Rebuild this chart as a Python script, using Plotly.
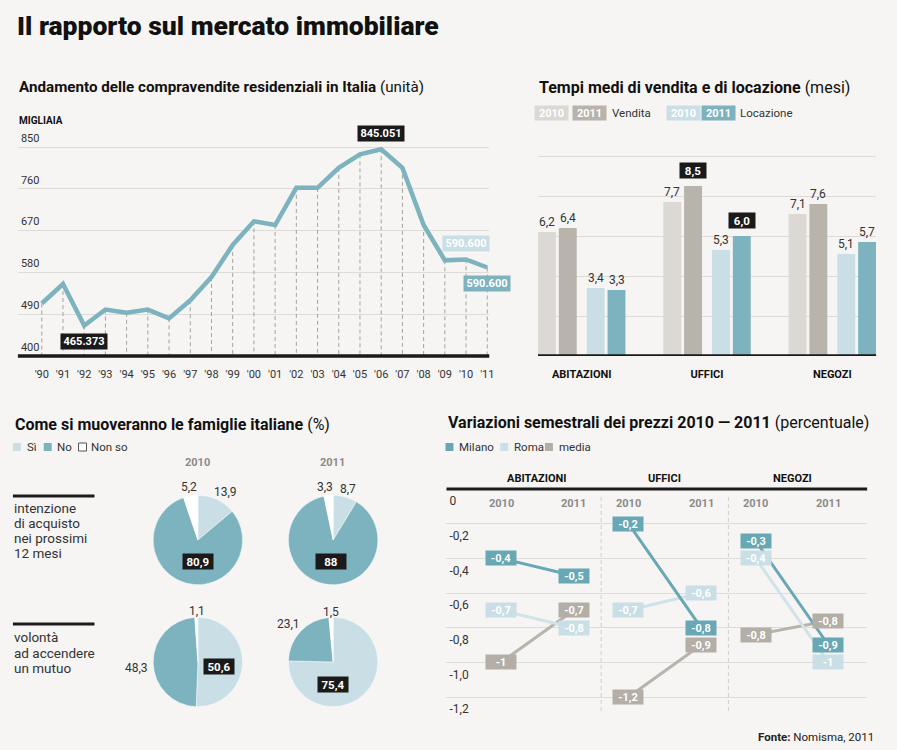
import plotly.graph_objects as go

# ------------------------------------------------------------------ data
years = list(range(1990, 2012))
year_labels = ["'" + str(y)[2:] for y in years]
sales = [513, 555, 465.373, 500, 493, 500, 481, 520, 570, 639, 690, 682,
         762, 762, 805, 834, 845.051, 805, 682, 606, 608, 590.6]
sales_ticks = [400, 490, 580, 670, 760, 850]

bar_cats = ["ABITAZIONI", "UFFICI", "NEGOZI"]
vendita_2010 = [6.2, 7.7, 7.1]
vendita_2011 = [6.4, 8.5, 7.6]
locazione_2010 = [3.4, 5.3, 5.1]
locazione_2011 = [3.3, 6.0, 5.7]

pie_labels = ["Sì", "No", "Non so"]
acquisto_2010 = [13.9, 80.9, 5.2]
acquisto_2011 = [8.7, 88, 3.3]
mutuo_2010 = [50.6, 48.3, 1.1]
mutuo_2011 = [75.4, 23.1, 1.5]

price_sectors = ["ABITAZIONI", "UFFICI", "NEGOZI"]
price_years = ["2010", "2011"]
milano = [[-0.4, -0.5], [-0.2, -0.8], [-0.3, -0.9]]
roma = [[-0.7, -0.8], [-0.7, -0.6], [-0.4, -1.0]]
media = [[-1.0, -0.7], [-1.2, -0.9], [-0.84, -0.76]]
price_ticks = [0, -0.2, -0.4, -0.6, -0.8, -1.0, -1.2]
price_tick_labels = ["0", "-0,2", "-0,4", "-0,6", "-0,8", "-1,0", "-1,2"]

# ------------------------------------------------------------------ style
W, H = 897, 750
BG = "#f6f5f3"
FONT = "Roboto"
INK = "#1a1a1a"
TXT = "#333333"
GRID = "#dedcd9"
TEAL = "#7db3bf"
TEAL_D = "#68a8b5"
LBLUE = "#c9dfe5"
GRAY1 = "#dcd9d4"
GRAY2 = "#b8b3ab"


def X(p):
    return p / W


def Y(p):
    return 1 - p / H


def it(v, d=1):
    return f"{v:.{d}f}".replace(".", ",")


def it_short(v):
    s = f"{v:.1f}"
    if s.endswith(".0"):
        s = s[:-2]
    return s.replace(".", ",")


ann = []
shapes = []


def text_px(x, y, s, size=12, color=TXT, xanchor="left", yanchor="middle", weight=None, **kw):
    f = dict(size=size, color=color, family=FONT)
    if weight:
        f["weight"] = weight
    ann.append(dict(x=X(x), y=Y(y), xref="paper", yref="paper", text=s, showarrow=False,
                    xanchor=xanchor, yanchor=yanchor, font=f, **kw))


def box_px(x, y, s, bg, w, h, size=11, color="white"):
    ann.append(dict(x=X(x), y=Y(y), xref="paper", yref="paper", text="<b>" + s + "</b>",
                    showarrow=False, xanchor="center", yanchor="middle", bgcolor=bg,
                    width=w, height=h, borderpad=0,
                    font=dict(size=size, color=color, family=FONT)))


def rect_px(x0, y0, x1, y1, fill, line=None):
    shapes.append(dict(type="rect", xref="paper", yref="paper", x0=X(x0), x1=X(x1),
                       y0=Y(y0), y1=Y(y1), fillcolor=fill,
                       line=dict(width=1 if line else 0, color=line or fill)))


def hline_px(x0, x1, y, width=3, color=INK):
    shapes.append(dict(type="line", xref="paper", yref="paper", x0=X(x0), x1=X(x1),
                       y0=Y(y), y1=Y(y), line=dict(color=color, width=width)))


def data_box(xref, yref, x, y, s, bg, w, h, yshift=0, size=11, color="white"):
    ann.append(dict(x=x, y=y, xref=xref, yref=yref, text="<b>" + s + "</b>", showarrow=False,
                    xanchor="center", yanchor="middle", bgcolor=bg, width=w, height=h,
                    borderpad=0, yshift=yshift, font=dict(size=size, color=color, family=FONT)))


fig = go.Figure()

# ================================================================== main title
text_px(15, 26, "Il rapporto sul mercato immobiliare", size=26.5, color="#111", weight=900)

# ================================================================== line chart
text_px(17, 87, "<b>Andamento delle compravendite residenziali in Italia</b> (unità)",
        size=15.2, color="#111")
text_px(17, 120, "<b>MIGLIAIA</b>", size=10, color="#111")

LX0, LX1, LY0, LY1 = 18, 492, 362, 126
YR0_PX, YR1_PX = 42, 490
BASE_PX, TOP_PX = 356, 147
ppy = (YR1_PX - YR0_PX) / (years[-1] - years[0])
lx_range = [years[0] - (YR0_PX - LX0) / ppy, years[-1] + (LX1 - YR1_PX) / ppy]
v_px = (BASE_PX - TOP_PX) / (sales_ticks[-1] - sales_ticks[0])
ly_range = [sales_ticks[0] - (LY0 - BASE_PX) / v_px,
            sales_ticks[0] + (BASE_PX - LY1) / v_px]

dx, dy = [], []
for yv, s in zip(years, sales):
    dx += [yv, yv, None]
    dy += [s, sales_ticks[0], None]
fig.add_trace(go.Scatter(x=dx, y=dy, mode="lines", xaxis="x", yaxis="y",
                         line=dict(color="#a3a3a3", width=1, dash="4px,3px"),
                         hoverinfo="skip", showlegend=False))
fig.add_trace(go.Scatter(x=years, y=sales, mode="lines", xaxis="x", yaxis="y",
                         line=dict(color=TEAL, width=4.5), showlegend=False))
shapes.append(dict(type="line", xref="x domain", yref="y", x0=0, x1=1,
                   y0=sales_ticks[0], y1=sales_ticks[0], line=dict(color=INK, width=3.5)))

i_min = sales.index(min(sales))
i_max = sales.index(max(sales))
data_box("x", "y", years[i_min], sales[i_min], f"{sales[i_min]:.3f}", INK, 46, 15, -16)
data_box("x", "y", years[i_max], sales[i_max], f"{sales[i_max]:.3f}", INK, 46, 15, 16)
data_box("x", "y", years[-2], sales[-2], f"{sales[-1]:.3f}", LBLUE, 46, 15, 16)
data_box("x", "y", years[-1], sales[-1], f"{sales[-1]:.3f}", TEAL, 46, 15, -16)

# ================================================================== bar chart
text_px(540, 88, "<b>Tempi medi di vendita e di locazione</b> (mesi)", size=16, color="#111")
box_px(555, 113, "2010", GRAY1, 33, 14)
box_px(592.5, 113, "2011", GRAY2, 33, 14)
text_px(613, 113, "Vendita", size=11.5, color=TXT)
box_px(687, 113, "2010", LBLUE, 33, 14)
box_px(722.5, 113, "2011", TEAL, 33, 14)
text_px(742, 113, "Locazione", size=11.5, color=TXT)

BX0, BX1, BY0, BY1 = 541, 881, 356, 150
GROUP_PX = 126
bx_range = [-(585 - BX0) / GROUP_PX, len(bar_cats) - 1 + (BX1 - 837) / GROUP_PX]
by_range = [0, (BY0 - BY1) / 20.0]
bar_offsets = [-0.349, -0.183, 0.040, 0.206]
bar_w = 0.143
bar_series = [(vendita_2010, GRAY1), (vendita_2011, GRAY2),
              (locazione_2010, LBLUE), (locazione_2011, TEAL)]
vmax = max(vendita_2010 + vendita_2011)
lmax = max(locazione_2010 + locazione_2011)
for k, ((vals, col), off) in enumerate(zip(bar_series, bar_offsets)):
    fig.add_trace(go.Bar(x=list(range(len(bar_cats))), y=vals, offset=off, width=bar_w,
                         marker=dict(color=col, line=dict(width=0)), xaxis="x2", yaxis="y2",
                         showlegend=False))
    hi = vmax if k < 2 else lmax
    for i, v in enumerate(vals):
        xc = i + off + bar_w / 2
        if v == hi:
            data_box("x2", "y2", xc, v, it(v), INK, 26, 15, 15, size=11.5)
        else:
            ann.append(dict(x=xc, y=v, xref="x2", yref="y2", text=it(v), showarrow=False,
                            xanchor="center", yanchor="bottom", yshift=1,
                            font=dict(size=12, color=TXT, family=FONT)))
shapes.append(dict(type="line", xref="x2 domain", yref="y2", x0=0, x1=1, y0=0, y1=0,
                   line=dict(color=INK, width=3.5)))

# ================================================================== pies
text_px(13, 424, "<b>Come si muoveranno le famiglie italiane</b> (%)", size=16, color="#111")
PIE_COLORS = [LBLUE, TEAL, "#ffffff"]
rect_px(13, 443, 21, 451, LBLUE)
text_px(25, 447, "Sì", size=11.5)
rect_px(44, 443, 52, 451, TEAL)
text_px(55, 447, "No", size=11.5)
rect_px(79, 443, 87, 451, "#ffffff", line="#555")
text_px(90, 447, "Non so", size=11.5)

text_px(199, 463, "<b>2010</b>", size=11, color="#8a8a8a", xanchor="center")
text_px(334, 463, "<b>2011</b>", size=11, color="#8a8a8a", xanchor="center")

hline_px(13, 95, 496, width=3)
for j, line in enumerate(["intenzione", "di acquisto", "nei prossimi", "12 mesi"]):
    text_px(12, 508 + 15 * j, line, size=13.5, color=TXT)
hline_px(13, 95, 624, width=3)
for j, line in enumerate(["volontà", "ad accendere", "un mutuo"]):
    text_px(12, 637 + 15.5 * j, line, size=13.5, color=TXT)

R = 45
pies = [(acquisto_2010, 199, 540), (acquisto_2011, 335, 540),
        (mutuo_2010, 199, 662), (mutuo_2011, 335, 662)]
for vals, cx, cy in pies:
    fig.add_trace(go.Pie(labels=pie_labels, values=vals, sort=False, direction="clockwise",
                         rotation=0, textinfo="none", hoverinfo="label+value",
                         marker=dict(colors=PIE_COLORS, line=dict(color="white", width=0.5)),
                         domain=dict(x=[X(cx - R), X(cx + R)], y=[Y(cy + R), Y(cy - R)]),
                         showlegend=False))

pie_label_pos = [
    [(227, 492), (199, 561), (190, 487)],
    [(350, 489), (333, 561), (327, 487)],
    [(220, 666), (137, 668), (198, 611)],
    [(335, 684), (290, 624), (333, 612)],
]
for (vals, cx, cy), pos in zip(pies, pie_label_pos):
    big = vals.index(max(vals))
    for i, (v, (lx, ly)) in enumerate(zip(vals, pos)):
        s = it_short(v)
        if i == big:
            box_px(lx, ly, s, INK, 30, 15, size=11.5)
        else:
            text_px(lx, ly, s, size=12, color=TXT, xanchor="center")

# ================================================================== slope chart
text_px(449, 423, "<b>Variazioni semestrali dei prezzi 2010 — 2011</b> (percentuale)",
        size=16, color="#111")
series = [("Milano", milano, TEAL_D, TEAL_D), ("Roma", roma, "#cfe3e8", LBLUE),
          ("media", media, GRAY2, "#b3aea6")]
leg_x = [448, 503, 548]
for (name, _, _, col), lx in zip(series, leg_x):
    rect_px(lx, 443, lx + 8, 451, col)
    text_px(lx + 12, 447, name, size=11.5)

SX0, SX1, SY0, SY1 = 449, 872, 724, 484
ZERO_PX = 489
PANEL_PX = 128
YEAR_OFF = 73 / PANEL_PX
sx_range = [-(504 - SX0) / PANEL_PX, (SX1 - 504) / PANEL_PX]
s_unit_px = (697 - ZERO_PX) / 1.2
sy_range = [-(SY0 - ZERO_PX) / s_unit_px, (ZERO_PX - SY1) / s_unit_px]

for name, vals, lcol, bcol in series[::-1]:
    xs, ys = [], []
    for p, pair in enumerate(vals):
        xs += [p, p + YEAR_OFF, None]
        ys += [pair[0], pair[1], None]
    fig.add_trace(go.Scatter(x=xs, y=ys, mode="lines", xaxis="x3", yaxis="y3",
                             line=dict(color=lcol, width=3), showlegend=False))
for name, vals, lcol, bcol in series[::-1]:
    for p, pair in enumerate(vals):
        for j, v in enumerate(pair):
            data_box("x3", "y3", p + j * YEAR_OFF, v, it_short(v), bcol, 30, 14, 0, size=11)

for p, sec in enumerate(price_sectors):
    ann.append(dict(x=p + YEAR_OFF / 2, y=Y(478), xref="x3", yref="paper",
                    text="<b>" + sec + "</b>", showarrow=False, xanchor="center",
                    yanchor="middle", font=dict(size=11, color="#111", family=FONT)))
    for j, yr in enumerate(price_years):
        ann.append(dict(x=p + j * YEAR_OFF, y=Y(503), xref="x3", yref="paper",
                        text="<b>" + yr + "</b>", showarrow=False, xanchor="center",
                        yanchor="middle", font=dict(size=11, color="#8a8a8a", family=FONT)))
    if p < len(price_sectors) - 1:
        xm = p + YEAR_OFF + (1 - YEAR_OFF) / 2
        shapes.append(dict(type="line", xref="x3", yref="paper", x0=xm, x1=xm,
                           y0=Y(497), y1=Y(713), line=dict(color="#cfcfcf", width=1, dash="4px,3px")))
shapes.append(dict(type="line", xref="x3 domain", yref="y3", x0=0, x1=1, y0=0, y1=0,
                   line=dict(color=INK, width=3)))

text_px(881, 737, "<b>Fonte:</b> Nomisma, 2011", size=11.5, color="#222", xanchor="right")

# ================================================================== layout
axis_common = dict(showline=False, zeroline=False, fixedrange=True)
fig.update_layout(
    width=W, height=H, margin=dict(l=0, r=0, t=0, b=0),
    paper_bgcolor=BG, plot_bgcolor="rgba(0,0,0,0)",
    font=dict(family=FONT, color=TXT), barmode="overlay", showlegend=False,
    xaxis=dict(domain=[X(LX0), X(LX1)], range=lx_range, tickvals=years, ticktext=year_labels,
               showgrid=False, ticks="", ticklabelstandoff=4,
               tickfont=dict(size=11, color=TXT), anchor="y", **axis_common),
    yaxis=dict(domain=[Y(LY0), Y(LY1)], range=ly_range, tickvals=sales_ticks,
               ticktext=[str(t) for t in sales_ticks], showgrid=True, gridcolor=GRID,
               gridwidth=1, ticks="", ticklabelposition="inside", ticklabelshift=-9,
               ticklabelstandoff=0, tickfont=dict(size=11, color=TXT), anchor="x",
               **axis_common),
    xaxis2=dict(domain=[X(BX0), X(BX1)], range=bx_range, tickvals=list(range(len(bar_cats))),
                ticktext=["<b>" + c + "</b>" for c in bar_cats], showgrid=False, ticks="",
                ticklabelstandoff=10, tickfont=dict(size=11, color="#111"), anchor="y2",
                **axis_common),
    yaxis2=dict(domain=[Y(BY0), Y(BY1)], range=by_range, dtick=2, showgrid=True,
                gridcolor=GRID, gridwidth=1, showticklabels=False, ticks="", anchor="x2",
                **axis_common),
    xaxis3=dict(domain=[X(SX0), X(SX1)], range=sx_range, showgrid=False,
                showticklabels=False, ticks="", anchor="y3", **axis_common),
    yaxis3=dict(domain=[Y(SY0), Y(SY1)], range=sy_range, tickvals=price_ticks,
                ticktext=price_tick_labels,
                showgrid=True, gridcolor=GRID, gridwidth=1, ticks="",
                ticklabelposition="inside", ticklabelshift=12, ticklabelstandoff=0,
                tickfont=dict(size=12, color=TXT), anchor="x3", **axis_common),
    annotations=ann, shapes=shapes,
)

fig.write_html("out.html")
